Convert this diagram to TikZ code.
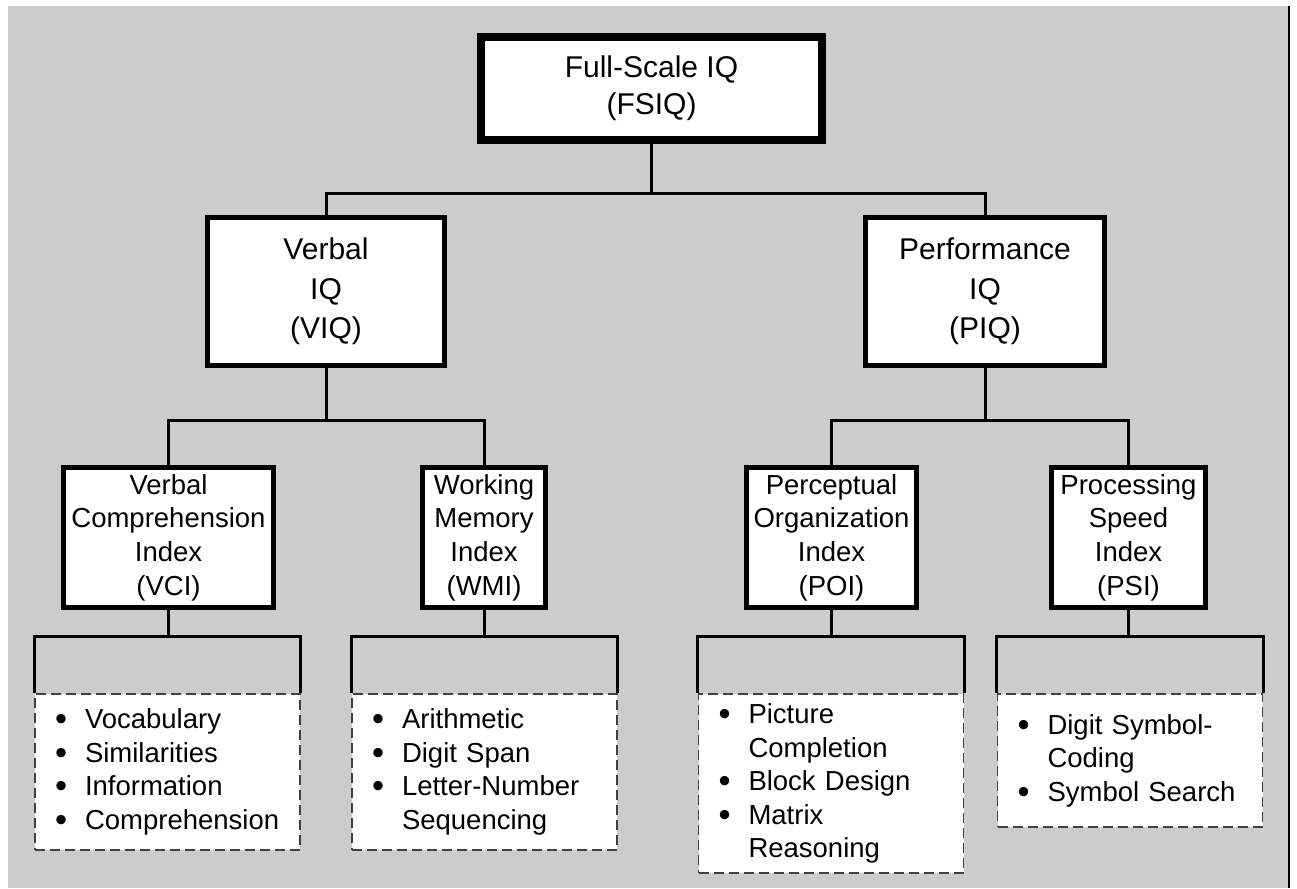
\documentclass[tikz,border=0pt]{standalone}
\usepackage{fontspec}
\setmainfont{Liberation Sans}
\usepackage{xcolor}
\usepackage{tikz}
\usetikzlibrary{positioning,calc}

\definecolor{bggray}{HTML}{CCCCCC}
\definecolor{dashgray}{HTML}{404040}
\newcommand{\bul}{\makebox[30pt][l]{\smash{\raisebox{-2pt}{\scalebox{1.25}{\textbullet}}}}}
\newcommand{\cont}{\hspace*{30pt}}

\tikzset{
	topbox/.style={draw=black,fill=white,line width=8pt,minimum width=341pt,minimum height=103pt,inner sep=0pt,align=center,font=\fontsize{30}{37}\selectfont},
	iqbox/.style={draw=black,fill=white,line width=5pt,minimum height=148pt,inner sep=0pt,align=center,font=\fontsize{30}{39.5}\selectfont},
	indexbox/.style={draw=black,fill=white,line width=5pt,minimum height=140pt,inner sep=0pt,align=center,font=\fontsize{27.5}{33.7}\selectfont},
	listbox/.style={draw=dashgray,fill=white,line width=1.8pt,dash pattern=on 10pt off 5pt,inner xsep=20pt,inner ysep=0pt,text width=225pt,align=left,font=\fontsize{27.5}{33.5}\selectfont},
	conn/.style={draw=black,line width=3pt}
}

\begin{document}
\begin{tikzpicture}[x=1pt,y=-1pt]
	\useasboundingbox (0,0) rectangle (1297,888);
	\fill[bggray] (8,6) rectangle (1290,888);
	\draw[line width=2pt] (1289,6) -- (1289,888);
	
	\node[topbox] (fsiq) at (651.5,88.5) {Full-Scale IQ\\(FSIQ)};
	\node[iqbox,minimum width=237pt] (viq) at (326,291.5) {Verbal\\IQ\\(VIQ)};
	\node[iqbox,minimum width=239pt] (piq) at (985,291.5) {Performance\\IQ\\(PIQ)};
	
	\node[indexbox,minimum width=210pt] (vci) at (168.5,537.5) {Verbal\\Comprehension\\Index\\(VCI)};
	\node[indexbox,minimum width=123pt] (wmi) at (484,537.5) {Working\\Memory\\Index\\(WMI)};
	\node[indexbox,minimum width=170pt] (poi) at (831.5,537.5) {Perceptual\\Organization\\Index\\(POI)};
	\node[indexbox,minimum width=154pt] (psi) at (1128.5,537.5) {Processing\\Speed\\Index\\(PSI)};
	
	\node[listbox,minimum height=156pt] (vci-list) at (167.5,772) {\bul Vocabulary\\\bul Similarities\\\bul Information\\\bul Comprehension};
	\node[listbox,minimum height=156pt] (wmi-list) at (484.5,772) {\bul Arithmetic\\\bul Digit Span\\\bul Letter-Number\\\cont Sequencing};
	\node[listbox,minimum height=179pt] (poi-list) at (831,783.5) {\bul Picture\\\cont Completion\\\bul Block Design\\\bul Matrix\\\cont Reasoning};
	\node[listbox,minimum height=133pt] (psi-list) at (1130,760.5) {\bul Digit Symbol-\\\cont Coding\\\bul Symbol Search};
	
	\coordinate (jtop) at (651.5,193);
	\draw[conn] (fsiq.south) -- (jtop);
	\draw[conn] (viq.north) |- (jtop) -| (piq.north);
	
	\coordinate (jv) at (326,420);
	\draw[conn] (viq.south) -- (jv);
	\draw[conn] (vci.north) |- (jv) -| (wmi.north);
	\coordinate (jp) at (985,420);
	\draw[conn] (piq.south) -- (jp);
	\draw[conn] (poi.north) |- (jp) -| (psi.north);
	
	\foreach \b in {vci,wmi,poi,psi}{
		\coordinate (j\b) at (\b.south |- 0,636);
		\draw[conn] (\b.south) -- (j\b);
		\draw[conn] (\b-list.north west) |- (j\b) -| (\b-list.north east);
	}
\end{tikzpicture}
\end{document}
